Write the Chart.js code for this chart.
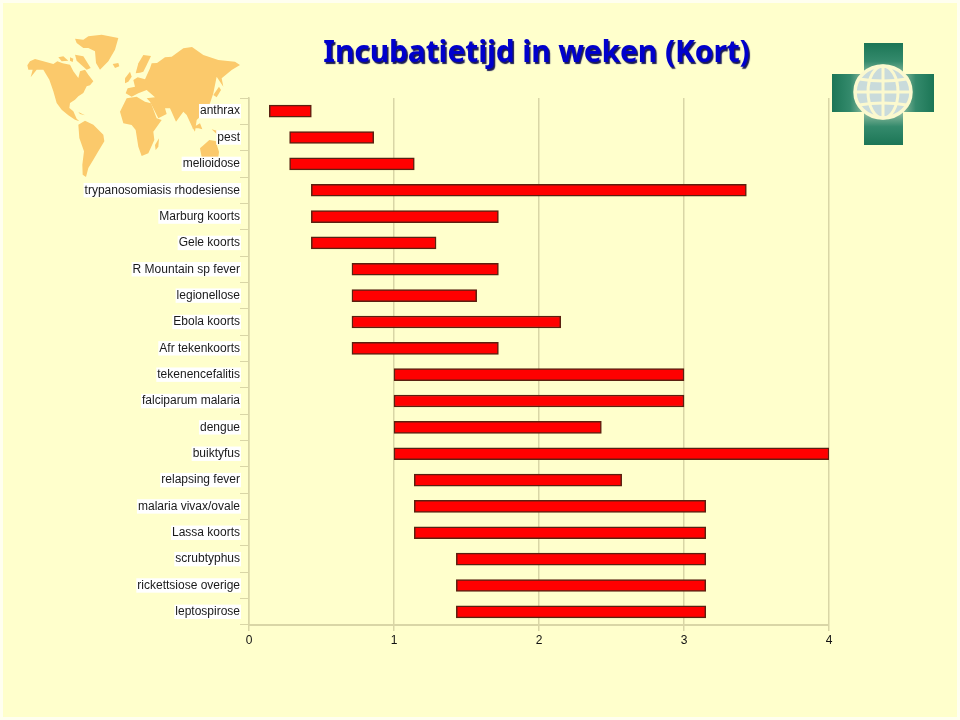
<!DOCTYPE html>
<html>
<head>
<meta charset="utf-8">
<title>Incubatietijd in weken (Kort)</title>
<script src="https://cdn.jsdelivr.net/npm/chart.js@4"></script>
<style>
    html, body { margin: 0; padding: 0; background: #fffff0; overflow: hidden; }
    #wrap { position: relative; width: 960px; height: 720px; }
    #grafico { position: absolute; left: 0; top: 0; }
    h1 {
        position: absolute; left: 0; width: 1073px; top: 30px; margin: 0; text-align: center;
        font: bold 30px "Noto Sans", sans-serif; color: #0000cc; letter-spacing: -0.12px;
        text-shadow: 1.5px 1.5px 1px #1a1a55;
    }
</style>
</head>
<body>
<div id="wrap">
    <canvas id="grafico" width="960" height="720"></canvas>
    <h1>Incubatietijd in weken (Kort)</h1>
</div>
<script>
var ziektes = ['anthrax', 'pest', 'melioidose', 'trypanosomiasis rhodesiense', 'Marburg koorts', 'Gele koorts',
    'R Mountain sp fever', 'legionellose', 'Ebola koorts', 'Afr tekenkoorts', 'tekenencefalitis', 'falciparum malaria',
    'dengue', 'buiktyfus', 'relapsing fever', 'malaria vivax/ovale', 'Lassa koorts', 'scrubtyphus',
    'rickettsiose overige', 'leptospirose'];
var beginWeken = [0.14, 0.28, 0.28, 0.43, 0.43, 0.43, 0.71, 0.71, 0.71, 0.71, 1, 1, 1, 1, 1.14, 1.14, 1.14, 1.43, 1.43, 1.43];
var eindWeken = [0.43, 0.86, 1.14, 3.43, 1.72, 1.29, 1.72, 1.57, 2.15, 1.72, 3, 3, 2.43, 4, 2.57, 3.15, 3.15, 3.15, 3.15, 3.15];
var weekTicks = [0, 1, 2, 3, 4];

// kaart: punten uit de uitsneden, schaal 3x
var kaartWest = [
    [[22,112],[30,100],[45,93],[70,100],[100,108],[112,100],[128,106],[150,110],[160,130],[175,150],[180,130],[195,125],[205,140],[220,160],[210,172],[200,175],[190,195],[175,205],[165,215],[150,225],[148,240],[160,250],[170,272],[178,280],[165,275],[145,262],[125,245],[110,225],[100,190],[88,155],[70,125],[50,125],[32,148],[38,125],[25,125]],
    [[165,32],[190,35],[205,25],[245,20],[295,30],[285,65],[265,100],[240,125],[228,105],[225,70],[205,60],[190,60],[170,45]],
    [[115,88],[130,85],[145,98],[125,100]],
    [[150,88],[160,92],[158,102],[150,98]],
    [[165,80],[190,85],[212,120],[200,125],[170,98]],
    [[278,108],[295,105],[298,115],[285,120]],
    [[175,252],[195,262],[180,258]],
    [[175,290],[195,278],[220,290],[250,320],[253,340],[235,370],[220,395],[205,420],[198,447],[188,440],[187,410],[192,370],[178,330]]
];
var kaartOost = [
    [[15,215],[35,175],[65,170],[90,185],[108,190],[125,235],[140,240],[115,275],[118,300],[100,340],[80,348],[70,320],[62,270],[50,255],[25,250]],
    [[32,160],[38,145],[60,140],[55,120],[68,112],[90,118],[105,85],[110,70],[126,69],[150,52],[170,50],[205,25],[231,21],[265,45],[310,60],[360,65],[375,75],[350,90],[320,115],[325,140],[305,110],[295,160],[285,190],[275,205],[255,230],[245,240],[240,275],[232,262],[215,225],[205,215],[183,245],[165,205],[150,205],[155,222],[130,235],[105,185],[95,175],[120,172],[95,150],[70,160],[50,170]],
    [[62,100],[70,70],[85,45],[108,48],[95,75],[85,95],[75,98]],
    [[30,115],[45,95],[50,110],[40,125],[30,130]],
    [[295,165],[312,140],[318,150],[305,172]],
    [[230,265],[255,250],[262,268],[250,265]],
    [[290,268],[305,272],[305,282]],
    [[255,325],[283,300],[302,303],[312,335],[310,352],[260,352]],
    [[120,315],[132,295],[130,320],[122,330]]
];

function tekenKaart(ctx, delen, ox, oy) {
    delen.forEach(function (deel) {
        ctx.beginPath();
        deel.forEach(function (p, i) {
            var x = ox + p[0] / 3, y = oy + p[1] / 3;
            if (i === 0) { ctx.moveTo(x, y); } else { ctx.lineTo(x, y); }
        });
        ctx.closePath();
        ctx.fill();
    });
}

function tekenLogo(ctx) {
    var cx = 883, cy = 92;
    var v = ctx.createLinearGradient(0, 43, 0, 145);
    v.addColorStop(0, '#1c7656'); v.addColorStop(0.18, '#348a6c'); v.addColorStop(0.42, '#d5e3c8');
    v.addColorStop(0.58, '#d5e3c8'); v.addColorStop(0.82, '#348a6c'); v.addColorStop(1, '#1c7656');
    ctx.fillStyle = v;
    ctx.fillRect(864, 43, 39, 102);
    var h = ctx.createLinearGradient(832, 0, 934, 0);
    h.addColorStop(0, '#1c7656'); h.addColorStop(0.18, '#348a6c'); h.addColorStop(0.42, '#d5e3c8');
    h.addColorStop(0.58, '#d5e3c8'); h.addColorStop(0.82, '#348a6c'); h.addColorStop(1, '#1c7656');
    ctx.fillStyle = h;
    ctx.fillRect(832, 74, 102, 38);
    ctx.fillStyle = '#c9dbdb';
    ctx.strokeStyle = '#fbf9cf';
    ctx.lineWidth = 3.5;
    ctx.beginPath(); ctx.ellipse(cx, cy, 28, 26, 0, 0, Math.PI * 2); ctx.fill(); ctx.stroke();
    ctx.lineWidth = 3;
    [0, 15].forEach(function (rx) {
        ctx.beginPath(); ctx.ellipse(cx, cy, rx, 26, 0, 0, Math.PI * 2); ctx.stroke();
    });
    ctx.beginPath();
    ctx.moveTo(cx - 28, cy); ctx.lineTo(cx + 28, cy);
    ctx.moveTo(cx - 24, cy - 13); ctx.quadraticCurveTo(cx, cy - 9, cx + 24, cy - 13);
    ctx.moveTo(cx - 24, cy + 13); ctx.quadraticCurveTo(cx, cy + 9, cx + 24, cy + 13);
    ctx.stroke();
}

var achtergrond = {
    id: 'achtergrond',
    beforeDraw: function (chart) {
        var ctx = chart.ctx;
        ctx.save();
        ctx.fillStyle = '#ffffcc';
        ctx.fillRect(3, 3, 954, 714);
        ctx.fillStyle = '#fbc96b';
        tekenKaart(ctx, kaartWest, 20, 28);
        tekenKaart(ctx, kaartOost, 115, 40);
        tekenLogo(ctx);
        ctx.restore();
    }
};

var lijnKleur = '#d9d6a6';

new Chart(document.getElementById('grafico').getContext('2d'), {
    type: 'bar',
    data: {
        labels: ziektes,
        datasets: [{
            label: 'Incubatietijd in weken',
            data: beginWeken.map(function (b, i) { return [b, eindWeken[i]]; }),
            backgroundColor: '#ff0000',
            borderColor: '#5a2010',
            borderWidth: 1.5,
            borderSkipped: false,
            barThickness: 12
        }]
    },
    options: {
        indexAxis: 'y',
        responsive: false,
        animation: false,
        layout: { padding: { left: 0, right: 131, top: 98, bottom: 0 } },
        plugins: { legend: { display: false }, tooltip: { enabled: false } },
        scales: {
            x: {
                min: 0,
                max: 4,
                afterBuildTicks: function (as) { as.ticks = weekTicks.map(function (w) { return { value: w }; }); },
                afterFit: function (as) { as.height = 95; },
                grid: { color: lijnKleur, lineWidth: 1.5, tickLength: 6 },
                border: { color: lijnKleur, width: 2 },
                ticks: { color: '#111111', font: { family: 'Liberation Sans', size: 12 }, padding: 2, maxRotation: 0 }
            },
            y: {
                afterFit: function (as) { as.width = 249; },
                grid: { drawOnChartArea: false, color: lijnKleur, tickLength: 9 },
                border: { color: lijnKleur, width: 1.5 },
                ticks: {
                    color: '#1a1a1a',
                    font: { family: 'Liberation Sans', size: 12 },
                    padding: 0,
                    autoSkip: false,
                    showLabelBackdrop: true,
                    backdropColor: '#ffffff',
                    backdropPadding: { left: 1, right: 1, top: 0, bottom: 0 }
                }
            }
        }
    },
    plugins: [achtergrond]
});
</script>
</body>
</html>
